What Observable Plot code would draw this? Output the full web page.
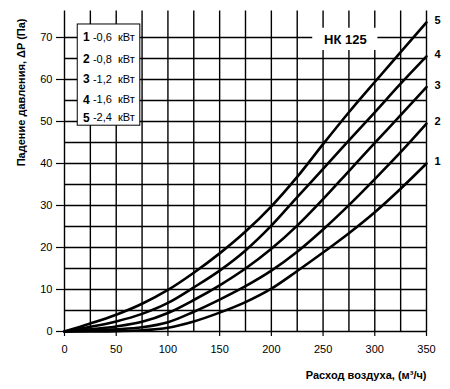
<!DOCTYPE html>
<html>
<head>
<meta charset="utf-8">
<script src="https://cdn.jsdelivr.net/npm/d3@7"></script>
<script src="https://cdn.jsdelivr.net/npm/@observablehq/plot@0.6"></script>
<style>
  html, body { margin: 0; padding: 0; background: #fff; }
  #chart svg { display: block; font-family: "Liberation Sans", Arial, sans-serif; }
</style>
</head>
<body>
<div id="chart"></div>
<script>
// Air flow, m3/h
const flow = [0, 25, 50, 75, 100, 125, 150, 175, 200, 225, 250, 275, 300, 325, 350];
// Pressure drop, Pa, per curve
const curve1 = [0, 0, 0.1, 0.3, 0.9, 2.4, 4.5, 7, 10.2, 14.4, 18.8, 23.4, 28.4, 34, 40];
const curve2 = [0, 0.2, 0.5, 1, 2.2, 4.7, 7.6, 10.8, 14.5, 19, 24.3, 30.1, 36.3, 42.7, 49.5];
const curve3 = [0, 0.5, 1.2, 2.3, 4.4, 7.5, 11, 15, 19.7, 25.2, 31.5, 38.2, 44.9, 51.5, 58.2];
const curve4 = [0, 1.1, 2.4, 4.2, 6.8, 10.5, 14.5, 19.3, 25.2, 32, 38.7, 45.5, 52.2, 59, 65.5];
const curve5 = [0, 1.9, 4, 6.6, 9.9, 14, 18.6, 23.8, 29.8, 36.8, 44.6, 52.2, 59.4, 66.5, 73.6];
const curveNames = ["1", "2", "3", "4", "5"];
const legendPowers = ["-0,6  кВт", "-0,8  кВт", "-1,2  кВт", "-1,6  кВт", "-2,4  кВт"];
const xTicks = [0, 50, 100, 150, 200, 250, 300, 350];
const yTicks = [0, 10, 20, 30, 40, 50, 60, 70];
const title = "НК 125";
const xTitle = "Расход воздуха, (м³/ч)";
const yTitle = "Падение давления, ΔP (Па)";

const curves = [curve1, curve2, curve3, curve4, curve5];
const rows = [];
curves.forEach((c, i) => c.forEach((v, j) => rows.push({x: flow[j], y: v, s: curveNames[i]})));
const ends = curves.map((c, i) => ({x: flow[flow.length - 1], y: c[c.length - 1], s: curveNames[i]}));

const vGrid = d3.range(0, 351, 25);
const hGrid = d3.range(5, 71, 5);

// legend layout (in data units)
const legY = [70, 64.8, 60, 55.2, 50.9];
const legend = curveNames.map((n, i) => ({n, p: legendPowers[i], y: legY[i]}));

const chart = Plot.plot({
  width: 450,
  height: 389,
  marginLeft: 64,
  marginRight: 24,
  marginTop: 16,
  marginBottom: 58,
  x: {domain: [0, 350]},
  y: {domain: [0, 75]},
  style: {fontFamily: "Liberation Sans, Arial, sans-serif", color: "#000", background: "#fff"},
  marks: [
    Plot.ruleX(vGrid, {x: d => d, y1: 0, y2: 76.3, stroke: "#000", strokeWidth: 1.4, strokeOpacity: 1}),
    Plot.ruleY(hGrid, {y: d => d, x1: 0, x2: 350, stroke: "#000", strokeWidth: 1.4, strokeOpacity: 1}),
    Plot.ruleY([0], {x1: 0, x2: 350, stroke: "#000", strokeWidth: 1.6}),
    Plot.axisY({ticks: yTicks, tickSize: 8, tickPadding: 4, label: null, fontSize: 11, stroke: "#000", strokeWidth: 1.2}),
    Plot.axisX({ticks: xTicks, tickSize: 5, tickPadding: 9, label: null, fontSize: 11, stroke: "#000", strokeWidth: 1.2}),
    // title box
    Plot.rect([title], {x1: 240, x2: 303, y1: 66.9, y2: 72.2, fill: "#fff"}),
    Plot.text([title], {x: 271.5, y: 69.4, text: d => d, fontSize: 13, fontWeight: "bold", fill: "#000"}),
    // legend
    Plot.rect([0], {x1: 12.8, x2: 73.3, y1: 49, y2: 73.1, fill: "#fff", stroke: "#000", strokeWidth: 1}),
    Plot.text(legend, {x: 21, y: "y", text: "n", fontSize: 12, fontWeight: "bold", fill: "#000"}),
    Plot.text(legend, {x: 27.5, y: "y", text: "p", fontSize: 11, textAnchor: "start", fill: "#000"}),
    // curves
    Plot.line(rows, {x: "x", y: "y", z: "s", stroke: "#000", strokeWidth: 2.6, curve: "monotone-x"}),
    Plot.text(ends, {x: "x", y: "y", text: "s", dx: 11, dy: -2, fontSize: 11, fontWeight: "bold", fill: "#000"}),
    // axis titles
    Plot.text([yTitle], {frameAnchor: "top-left", text: d => d, rotate: -90, dx: -47, dy: 2, textAnchor: "end", fontSize: 11, fontWeight: "bold", fill: "#000"}),
    Plot.text([xTitle], {frameAnchor: "bottom-right", text: d => d, dy: 47, textAnchor: "end", fontSize: 11, fontWeight: "bold", fill: "#000"})
  ]
});
document.getElementById("chart").appendChild(chart);
</script>
</body>
</html>
